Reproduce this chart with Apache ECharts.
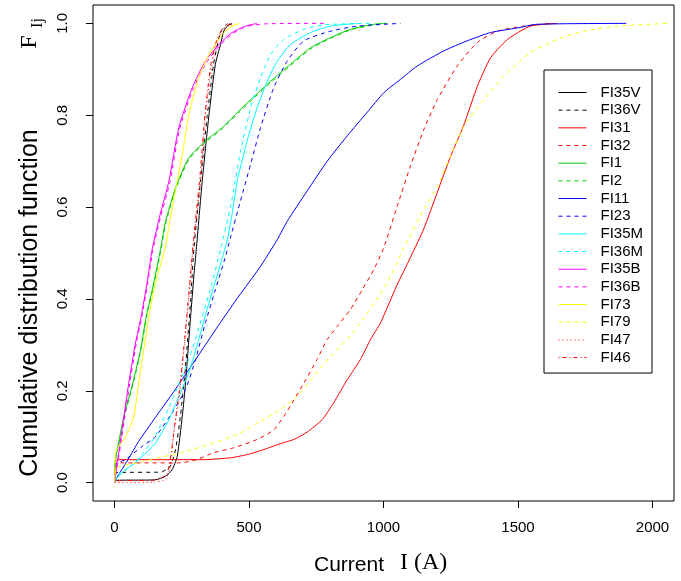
<!DOCTYPE html>
<html>
<head>
<meta charset="utf-8">
<script src="https://cdn.jsdelivr.net/npm/echarts@6/dist/echarts.min.js"></script>
<style>html,body{margin:0;padding:0;background:#fff}#c{width:681px;height:581px}</style>
</head>
<body>
<div id="c"></div>
<script>
// ---- data (current in A, cumulative probability) ----
const names = ['FI35V','FI36V','FI31','FI32','FI1','FI2','FI11','FI23','FI35M','FI36M','FI35B','FI36B','FI73','FI79','FI47','FI46'];
const xTicks = [0, 500, 1000, 1500, 2000];
const yTicks = [0, 0.2, 0.4, 0.6, 0.8, 1.0];

const FI35V = [[0,0],[6,0.005],[150,0.006],[190,0.014],[214,0.028],[233,0.057],[252,0.145],[264,0.217],[283,0.362],[295,0.45],[304,0.508],[326,0.656],[351,0.80],[375,0.911],[394,0.954],[406,0.983],[419,0.994],[437,1]];
const FI36V = [[0,0],[8,0.022],[175,0.023],[195,0.03],[208,0.036],[227,0.072],[245,0.145],[264,0.253],[283,0.399],[295,0.508],[320,0.66],[345,0.8],[368,0.91],[385,0.96],[398,0.985],[420,1]];
const FI31 = [[0,0],[8,0.05],[330,0.05],[430,0.054],[493,0.061],[555,0.072],[617,0.085],[667,0.094],[716,0.11],[772,0.137],[815,0.174],[865,0.224],[914,0.268],[952,0.312],[989,0.348],[1050,0.43],[1100,0.49],[1150,0.553],[1200,0.632],[1249,0.71],[1297,0.776],[1349,0.863],[1398,0.925],[1461,0.965],[1546,0.994],[1647,1]];
const FI32 = [[0,0],[8,0.043],[245,0.043],[305,0.05],[369,0.065],[444,0.076],[530,0.094],[592,0.115],[629,0.144],[667,0.18],[704,0.217],[753,0.268],[791,0.312],[828,0.34],[877,0.377],[921,0.42],[964,0.464],[1000,0.51],[1051,0.602],[1100,0.689],[1150,0.769],[1200,0.834],[1274,0.907],[1348,0.958],[1423,0.983],[1521,0.994],[1621,1]];
const FI1 = [[0,0],[3,0.05],[10,0.072],[35,0.145],[68,0.217],[97,0.29],[118,0.362],[146,0.435],[171,0.508],[190,0.569],[227,0.642],[276,0.707],[338,0.744],[400,0.773],[462,0.809],[506,0.834],[580,0.874],[654,0.911],[729,0.947],[803,0.969],[877,0.987],[963,0.998],[1013,1]];
const FI2 = [[0,0],[3,0.048],[11,0.07],[36,0.143],[69,0.215],[98,0.288],[119,0.36],[147,0.433],[172,0.505],[191,0.566],[228,0.64],[278,0.705],[340,0.742],[402,0.771],[464,0.807],[508,0.832],[582,0.872],[656,0.909],[731,0.945],[805,0.968],[879,0.986],[965,0.997],[1010,1]];
const FI11 = [[0,0],[10,0.012],[50,0.05],[90,0.09],[152,0.142],[214,0.193],[276,0.246],[338,0.3],[400,0.354],[462,0.406],[537,0.466],[605,0.529],[642,0.569],[716,0.635],[791,0.70],[865,0.755],[939,0.806],[1001,0.849],[1063,0.878],[1125,0.907],[1224,0.94],[1311,0.962],[1398,0.98],[1497,0.99],[1571,0.998],[1903,1]];
const FI23 = [[0,0],[5,0.04],[40,0.05],[103,0.079],[152,0.10],[214,0.152],[264,0.203],[301,0.268],[338,0.348],[375,0.42],[413,0.493],[431,0.533],[468,0.613],[506,0.693],[543,0.773],[592,0.86],[642,0.918],[704,0.962],[803,0.983],[902,0.994],[1063,1]];
const FI35M = [[0,0],[8,0.01],[41,0.028],[90,0.05],[152,0.086],[202,0.137],[239,0.188],[276,0.239],[313,0.312],[351,0.391],[388,0.464],[420,0.53],[437,0.584],[456,0.656],[493,0.744],[530,0.816],[568,0.874],[605,0.918],[654,0.954],[729,0.98],[803,0.994],[900,1]];
const FI36M = [[0,0],[8,0.015],[60,0.035],[100,0.06],[150,0.1],[214,0.18],[276,0.268],[326,0.362],[363,0.435],[394,0.508],[431,0.6],[468,0.72],[506,0.816],[543,0.882],[580,0.932],[629,0.965],[704,0.987],[780,0.997],[950,1]];
const FI35B = [[0,0],[4,0.02],[10,0.043],[28,0.116],[53,0.217],[78,0.304],[99,0.362],[121,0.435],[140,0.508],[170,0.585],[202,0.656],[239,0.773],[289,0.86],[338,0.918],[388,0.954],[437,0.98],[487,0.994],[530,1]];
const FI36B = [[0,0],[4,0.015],[12,0.043],[30,0.11],[55,0.21],[80,0.3],[101,0.36],[123,0.432],[142,0.505],[172,0.58],[205,0.652],[242,0.77],[292,0.857],[342,0.915],[392,0.952],[440,0.978],[490,0.993],[560,0.999],[790,1]];
const FI73 = [[0,0],[3,0.06],[6,0.07],[41,0.10],[72,0.145],[90,0.217],[109,0.29],[128,0.362],[152,0.435],[187,0.508],[214,0.598],[252,0.715],[276,0.80],[313,0.882],[351,0.932],[400,0.976],[437,0.994],[465,1]];
const FI79 = [[0,0],[5,0.03],[22,0.036],[100,0.045],[170,0.055],[245,0.065],[369,0.086],[468,0.108],[543,0.134],[617,0.159],[679,0.188],[741,0.232],[803,0.275],[865,0.312],[914,0.348],[964,0.391],[1014,0.435],[1075,0.51],[1150,0.595],[1200,0.645],[1249,0.711],[1299,0.776],[1373,0.834],[1447,0.885],[1546,0.936],[1646,0.965],[1745,0.983],[1869,0.994],[2060,1]];
const FI47 = [[0,0],[150,0.001],[190,0.007],[208,0.036],[220,0.108],[239,0.18],[258,0.29],[276,0.40],[291,0.508],[320,0.656],[338,0.80],[363,0.911],[382,0.962],[400,0.983],[425,0.995],[445,1]];
const FI46 = [[0,0],[6,0.004],[160,0.006],[195,0.02],[212,0.07],[225,0.13],[243,0.21],[262,0.32],[279,0.43],[294,0.53],[318,0.67],[336,0.8],[358,0.91],[378,0.96],[398,0.985],[430,1]];

const seriesData = [FI35V,FI36V,FI31,FI32,FI1,FI2,FI11,FI23,FI35M,FI36M,FI35B,FI36B,FI73,FI79,FI47,FI46];
const colors = ['#000000','#000000','#FF0000','#FF0000','#00CD00','#00CD00','#0000FF','#0000FF','#00FFFF','#00FFFF','#FF00FF','#FF00FF','#FFFF00','#FFFF00','#FF0000','#FF0000'];
const DASH = [4,4], DOT = [1,3], DOTDASH = [1,3,4,3];
const dashes = ['solid',DASH,'solid',DASH,'solid',DASH,'solid',DASH,'solid',DASH,'solid',DASH,'solid',DASH,DOT,DOTDASH];

const series = names.map((n, i) => ({
  name: n,
  type: 'line',
  data: seriesData[i],
  symbol: 'none',
  smooth: 0.2,
  clip: true,
  color: colors[i],
  lineStyle: { color: colors[i], width: 1, type: dashes[i] },
  emphasis: { disabled: true },
  animation: false
}));

const legendData = names.map((n, i) => ({
  name: n,
  itemStyle: { opacity: 0 },
  lineStyle: { color: colors[i], width: 1, type: dashes[i], opacity: 1 }
}));

const chart = echarts.init(document.getElementById('c'), null, { renderer: 'canvas' });
chart.setOption({
  animation: false,
  backgroundColor: '#fff',
  grid: { left: 93, top: 5, right: 7, bottom: 80, show: true, borderColor: '#000', borderWidth: 1, backgroundColor: 'transparent' },
  xAxis: {
    type: 'value', min: -80, max: 2080,
    axisLine: { show: false, onZero: false },
    splitLine: { show: false },
    axisTick: { show: true, inside: false, length: 7, lineStyle: { color: '#000' }, customValues: xTicks },
    axisLabel: { customValues: xTicks, margin: 19, color: '#000', fontFamily: 'Liberation Sans, Arial, sans-serif', fontSize: 15, formatter: v => String(v) }
  },
  yAxis: {
    type: 'value', min: -0.04, max: 1.04,
    axisLine: { show: false, onZero: false },
    splitLine: { show: false },
    axisTick: { show: true, inside: false, length: 7, lineStyle: { color: '#000' }, customValues: yTicks },
    axisLabel: { customValues: yTicks, rotate: 90, margin: 23, color: '#000', fontFamily: 'Liberation Sans, Arial, sans-serif', fontSize: 15, formatter: v => v.toFixed(1) }
  },
  legend: {
    orient: 'vertical', left: 544, top: 70,
    padding: [15, 9, 8, 14],
    itemWidth: 28, itemHeight: 14, itemGap: 2.67,
    borderColor: '#000', borderWidth: 1, backgroundColor: '#fff',
    selectedMode: false,
    itemStyle: { opacity: 0 },
    textStyle: { color: '#000', fontFamily: 'Liberation Sans, Arial, sans-serif', fontSize: 15, padding: [0,0,0,9] },
    data: legendData
  },
  graphic: [
    { type: 'text', x: 30, y: 303, rotation: Math.PI/2, style: { text: 'Cumulative distribution function', fill: '#000', font: '25px "Liberation Sans", Arial, sans-serif', align: 'center', verticalAlign: 'middle' } },
    { type: 'text', x: 30, y: 42, rotation: Math.PI/2, style: { text: 'F', fill: '#000', font: '24px "Liberation Serif", "Times New Roman", serif', align: 'center', verticalAlign: 'middle' } },
    { type: 'text', x: 38, y: 23, rotation: Math.PI/2, style: { text: 'Ij', fill: '#000', font: '16px "Liberation Serif", "Times New Roman", serif', align: 'center', verticalAlign: 'middle' } },
    { type: 'text', x: 349, y: 565, style: { text: 'Current', fill: '#000', font: '21px "Liberation Sans", Arial, sans-serif', align: 'center', verticalAlign: 'middle' } },
    { type: 'text', x: 400, y: 563, style: { text: 'I (A)', fill: '#000', font: '24px "Liberation Serif", "Times New Roman", serif', align: 'left', verticalAlign: 'middle' } }
  ],
  series: series
});
</script>
</body>
</html>
